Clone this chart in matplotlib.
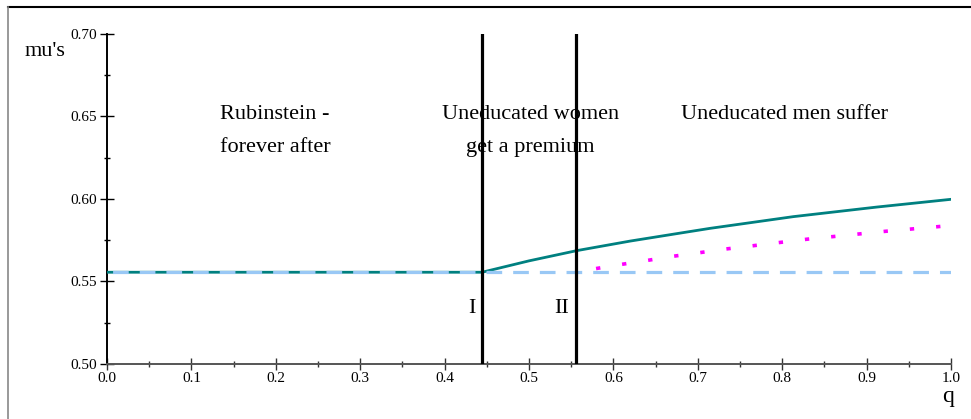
import matplotlib
matplotlib.use("Agg")
import matplotlib.pyplot as plt
from matplotlib.lines import Line2D
from matplotlib.ticker import MultipleLocator, FormatStrFormatter

plt.rcParams['font.family'] = ['Liberation Serif', 'DejaVu Serif']

# Data
base_q = [0.0, 1.0]
base_mu = [0.5556, 0.5556]

teal_q = [0.0, 0.4444, 0.5, 0.5566, 0.62, 0.68, 0.7145, 0.8132, 0.912, 1.0]
teal_mu = [0.5556, 0.5556, 0.5625, 0.5687, 0.5745, 0.5794, 0.5822, 0.5893, 0.5951, 0.5998]

dot_q = [0.557, 0.579, 0.610, 0.6405, 0.671, 0.7026, 0.7334, 0.766, 0.798, 0.829,
         0.860, 0.891, 0.922, 0.953, 0.984, 0.99]
dot_mu = [0.5562, 0.5578, 0.5604, 0.5628, 0.5653, 0.5675, 0.5697, 0.5717, 0.5737, 0.5756,
          0.5772, 0.5788, 0.5804, 0.5818, 0.5832, 0.5835]

thresholds = [0.4444, 0.5556]
threshold_labels = ['I', 'II']

fig = plt.figure(figsize=(9.71, 4.19), dpi=100)
ax = fig.add_axes([0.1102, 0.1313, 0.9794 - 0.1102, 0.9189 - 0.1313])

ax.plot(teal_q, teal_mu, color='#008080', lw=2.0, zorder=3)
ax.plot(base_q, base_mu, color='#99c8f5', lw=2.3, linestyle=(6.6, (4.9, 3.45)), zorder=4)
ax.plot(dot_q, dot_mu, color='#ff00ff', lw=2.6, linestyle=(2.0, (1.2, 6.1)), zorder=4)

for t, lab in zip(thresholds, threshold_labels):
    ax.plot([t, t], [0.5, 0.7], color='black', lw=2.3, zorder=5)
    ax.text(t - 0.008, 0.5335, lab, ha='right', va='center', fontsize=16)

ax.set_xlim(0, 1)
ax.set_ylim(0.5, 0.7)

ax.spines['top'].set_visible(False)
ax.spines['right'].set_visible(False)
ax.spines['bottom'].set_color('#555555')
ax.spines['bottom'].set_linewidth(1.4)
ax.spines['left'].set_color('black')
ax.spines['left'].set_linewidth(1.4)

ax.xaxis.set_major_locator(MultipleLocator(0.1))
ax.xaxis.set_minor_locator(MultipleLocator(0.05))
ax.yaxis.set_major_locator(MultipleLocator(0.05))
ax.yaxis.set_minor_locator(MultipleLocator(0.025))
ax.xaxis.set_major_formatter(FormatStrFormatter('%.1f'))
ax.yaxis.set_major_formatter(FormatStrFormatter('%.2f'))
ax.tick_params(axis='x', which='major', direction='inout', length=8, width=1.0,
               color='#333333', labelsize=11, pad=2)
ax.tick_params(axis='x', which='minor', direction='inout', length=5, width=1.0, color='#333333')
ax.tick_params(axis='y', which='major', direction='inout', length=10, width=1.0,
               color='black', labelsize=11, pad=2)
ax.tick_params(axis='y', which='minor', direction='inout', length=5, width=1.0, color='black')

ax.text(0.134, 0.6515, 'Rubinstein -', fontsize=16, ha='left', va='center')
ax.text(0.134, 0.6315, 'forever after', fontsize=16, ha='left', va='center')
ax.text(0.502, 0.6515, 'Uneducated women', fontsize=16, ha='center', va='center')
ax.text(0.502, 0.6315, 'get a premium', fontsize=16, ha='center', va='center')
ax.text(0.803, 0.6515, 'Uneducated men suffer', fontsize=16, ha='center', va='center')

fig.text(45 / 971, 1 - 51 / 419, "mu's", fontsize=16, ha='center', va='center')
fig.text(948 / 971, 1 - 396 / 419, 'q', fontsize=17, ha='center', va='center')

fig.add_artist(Line2D([8 / 971, 1.0], [1 - 7 / 419, 1 - 7 / 419], color='black', lw=1.5,
                      transform=fig.transFigure))
fig.add_artist(Line2D([8 / 971, 8 / 971], [0, 1 - 7 / 419], color='#888888', lw=1.2,
                      transform=fig.transFigure))

fig.savefig('out.png', dpi=100)
